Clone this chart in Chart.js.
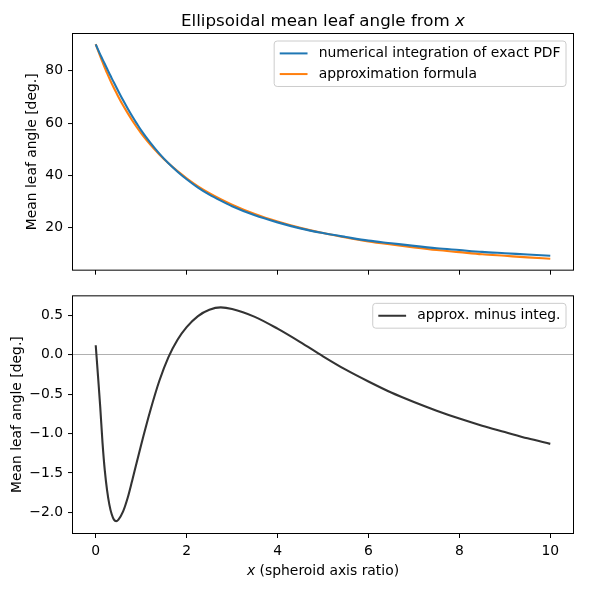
<!DOCTYPE html>
<html>
<head>
<meta charset="utf-8">
<script src="https://cdn.jsdelivr.net/npm/chart.js@4.4.1/dist/chart.umd.min.js"></script>
<style>
  html, body { margin: 0; padding: 0; background: #fff; }
  #wrap { position: relative; width: 590px; height: 590px; }
  #chartTop { position: absolute; left: 0; top: 0; }
  #chartBot { position: absolute; left: 0; top: 283px; }
</style>
</head>
<body>
<div id="wrap">
  <canvas id="chartTop" width="590" height="283"></canvas>
  <canvas id="chartBot" width="590" height="307"></canvas>
</div>
<script>
// x = spheroid axis ratio
var xValues = [0, 0.05, 0.1, 0.15, 0.2, 0.25, 0.3, 0.35, 0.4, 0.45, 0.5, 0.6, 0.7, 0.8, 0.9, 1.0,
  1.2, 1.4, 1.6, 1.8, 2.0, 2.25, 2.5, 2.75, 3.0, 3.5, 4.0, 4.5, 5.0, 5.5, 6.0, 6.5, 7.0, 7.5,
  8.0, 8.5, 9.0, 9.5, 10.0];

// mean leaf angle [deg.], numerical integration of exact PDF
var integValues = [90.1, 88.1, 86.2, 84.4, 82.6, 80.8, 79.0, 77.2, 75.5, 73.8, 72.1, 68.8, 65.7,
  62.7, 59.9, 57.2, 52.5, 48.3, 44.6, 41.4, 38.5, 35.3, 32.6, 30.3, 28.2, 24.7, 22.0, 19.7, 17.9,
  16.4, 15.0, 14.0, 13.0, 12.1, 11.4, 10.7, 10.2, 9.7, 9.2];

// mean leaf angle [deg.], approximation formula
var approxValues = [90.2, 87.8, 85.5, 83.3, 81.1, 79.1, 77.1, 75.2, 73.4, 71.7, 70.0, 66.8, 63.9,
  61.1, 58.5, 56.1, 51.8, 48.0, 44.6, 41.6, 38.9, 35.8, 33.2, 30.9, 28.8, 25.2, 22.3, 19.9, 17.9,
  16.2, 14.7, 13.5, 12.4, 11.4, 10.6, 9.8, 9.2, 8.6, 8.1];

// approx. minus integ. [deg.]
var diffValues = [0.12, -0.27, -0.67, -1.12, -1.47, -1.72, -1.90, -2.02, -2.09, -2.11, -2.09,
  -1.99, -1.82, -1.60, -1.37, -1.14, -0.71, -0.33, -0.03, 0.19, 0.35, 0.49, 0.57, 0.60, 0.58,
  0.48, 0.33, 0.16, -0.02, -0.19, -0.34, -0.48, -0.60, -0.71, -0.81, -0.90, -0.98, -1.06, -1.13];

var xTicks = [0, 2, 4, 6, 8, 10];
var topTicks = [20, 40, 60, 80];
var botTicks = [-2.0, -1.5, -1.0, -0.5, 0.0, 0.5];

var FONT = '"DejaVu Sans", sans-serif';
var FS = 13.9;

function pts(ys) {
  return xValues.map(function (x, i) { return { x: x, y: ys[i] }; });
}

function drawParts(ctx, parts, cx, y, size) {
  var w = 0;
  parts.forEach(function (p) {
    ctx.font = (p.italic ? 'italic ' : '') + size + 'px ' + FONT;
    p.w = ctx.measureText(p.text).width;
    w += p.w;
  });
  var x = cx - w / 2;
  ctx.textAlign = 'left';
  ctx.textBaseline = 'alphabetic';
  ctx.fillStyle = '#000';
  parts.forEach(function (p) {
    ctx.font = (p.italic ? 'italic ' : '') + size + 'px ' + FONT;
    ctx.fillText(p.text, x, y);
    x += p.w;
  });
}

// frame on all four sides, boxed legend and mixed-style texts like matplotlib
var mplDecor = {
  id: 'mplDecor',
  afterDraw: function (chart, args, opts) {
    var ctx = chart.ctx, a = chart.chartArea;
    ctx.save();
    ctx.strokeStyle = '#000';
    ctx.lineWidth = 1;
    ctx.strokeRect(a.left - 0.5, a.top - 0.5, a.right - a.left + 1, a.bottom - a.top + 1);

    // legend
    var sets = chart.data.datasets.filter(function (d) { return d.label; });
    ctx.font = FS + 'px ' + FONT;
    var tw = 0;
    sets.forEach(function (d) { tw = Math.max(tw, ctx.measureText(d.label).width); });
    var pad = 0.4 * FS, handle = 2 * FS, hpad = 0.8 * FS, rowH = 13.7, gap = 0.5 * FS;
    var bw = pad * 2 + handle + hpad + tw;
    var bh = pad * 2 + rowH * sets.length + gap * (sets.length - 1);
    var bx = a.right - 7 - bw, by = a.top + 7;
    ctx.beginPath();
    ctx.roundRect(bx, by, bw, bh, 3);
    ctx.fillStyle = 'rgba(255,255,255,0.8)';
    ctx.fill();
    ctx.strokeStyle = '#cccccc';
    ctx.stroke();
    sets.forEach(function (d, i) {
      var cy = by + pad + rowH / 2 + i * (rowH + gap);
      ctx.beginPath();
      ctx.moveTo(bx + pad, cy);
      ctx.lineTo(bx + pad + handle, cy);
      ctx.strokeStyle = d.borderColor;
      ctx.lineWidth = 2;
      ctx.stroke();
      ctx.fillStyle = '#000';
      ctx.font = FS + 'px ' + FONT;
      ctx.textAlign = 'left';
      ctx.textBaseline = 'middle';
      ctx.fillText(d.label, bx + pad + handle + hpad, cy);
    });

    (opts.texts || []).forEach(function (t) {
      drawParts(ctx, t.parts, (a.left + a.right) / 2, t.y, t.size);
    });
    ctx.restore();
  }
};

function yAxis(min, max, ticks, fmt, titlePad, zeroLine) {
  return {
    type: 'linear',
    min: min,
    max: max,
    afterBuildTicks: function (s) { s.ticks = ticks.map(function (v) { return { value: v }; }); },
    afterFit: function (s) { s.width = 73; },
    border: { display: false },
    grid: {
      drawOnChartArea: zeroLine,
      color: function (c) { return zeroLine && c.tick && c.tick.value === 0 ? '#b0b0b0' : 'rgba(0,0,0,0)'; },
      lineWidth: 1.1,
      drawTicks: true,
      tickLength: 5,
      tickColor: '#000',
      tickWidth: 1
    },
    ticks: {
      color: '#000',
      padding: 5,
      font: { family: FONT, size: FS },
      callback: fmt
    },
    title: {
      display: true,
      text: 'Mean leaf angle [deg.]',
      color: '#000',
      font: { family: FONT, size: FS },
      padding: { top: titlePad, bottom: 0 }
    }
  };
}

function xAxis(showLabels, height) {
  return {
    type: 'linear',
    min: -0.5,
    max: 10.5,
    afterBuildTicks: function (s) { s.ticks = xTicks.map(function (v) { return { value: v }; }); },
    afterFit: function (s) { s.height = height; },
    border: { display: false },
    grid: {
      drawOnChartArea: false,
      drawTicks: true,
      tickLength: 5,
      tickColor: '#000',
      tickWidth: 1
    },
    ticks: {
      display: showLabels,
      color: '#000',
      padding: 5,
      maxRotation: 0,
      autoSkip: false,
      font: { family: FONT, size: FS },
      callback: function (v) { return String(v); }
    }
  };
}

var lineStyle = { pointRadius: 0, borderWidth: 2.1, fill: false, cubicInterpolationMode: 'monotone' };

new Chart(document.getElementById('chartTop'), {
  type: 'line',
  data: {
    datasets: [
      Object.assign({ label: 'numerical integration of exact PDF', data: pts(integValues), borderColor: '#1f77b4' }, lineStyle),
      Object.assign({ label: 'approximation formula', data: pts(approxValues), borderColor: '#ff7f0e' }, lineStyle)
    ]
  },
  options: {
    responsive: false,
    animation: false,
    layout: { padding: { left: 0, right: 17, top: 34, bottom: 4 } },
    plugins: {
      legend: { display: false },
      tooltip: { enabled: false },
      mplDecor: {
        texts: [{ y: 25.8, size: 16.7, parts: [{ text: 'Ellipsoidal mean leaf angle from ' }, { text: 'x', italic: true }] }]
      }
    },
    scales: {
      x: xAxis(false, 5),
      y: yAxis(3.9, 94.1, topTicks, function (v) { return String(v); }, 24, false)
    }
  },
  plugins: [mplDecor]
});

new Chart(document.getElementById('chartBot'), {
  type: 'line',
  data: {
    datasets: [
      Object.assign({ label: 'approx. minus integ.', data: pts(diffValues), borderColor: '#333333' }, lineStyle)
    ]
  },
  options: {
    responsive: false,
    animation: false,
    layout: { padding: { left: 0, right: 17, top: 10, bottom: 0 } },
    plugins: {
      legend: { display: false },
      tooltip: { enabled: false },
      mplDecor: {
        texts: [{ y: 291.5, size: FS, parts: [{ text: 'x', italic: true }, { text: ' (spheroid axis ratio)' }] }]
      }
    },
    scales: {
      x: xAxis(true, 57),
      y: yAxis(-2.26, 0.74, botTicks, function (v) { return v.toFixed(1).replace('-', '\u2212'); }, 8.8, true)
    }
  },
  plugins: [mplDecor]
});
</script>
</body>
</html>
